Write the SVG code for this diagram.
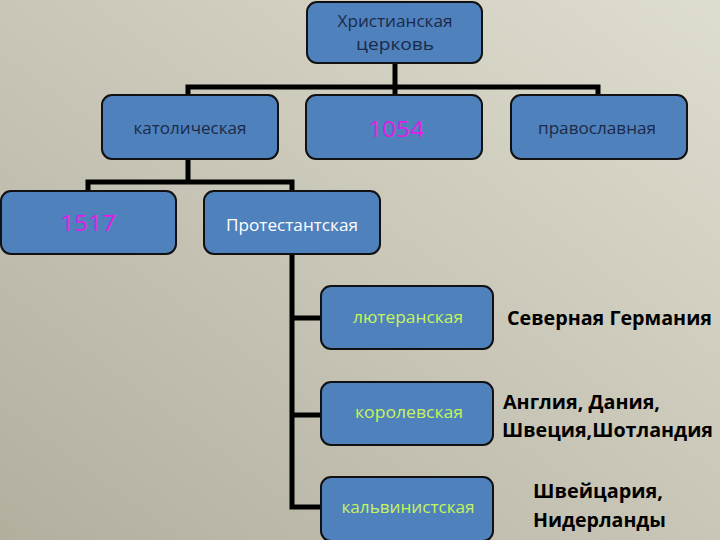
<svg xmlns="http://www.w3.org/2000/svg" width="720" height="540" viewBox="0 0 720 540">
<defs>
<linearGradient id="bg" x1="1" y1="0" x2="0" y2="1">
<stop offset="0" stop-color="#dfddcf"/>
<stop offset="1" stop-color="#b2af9f"/>
</linearGradient>
<style>
.box{fill:#4f81bd;stroke:#111;stroke-width:2}
.ln{stroke:#000;stroke-width:5;fill:none;stroke-linecap:square}
.t{font-family:"Open Sans","Noto Sans","DejaVu Sans",sans-serif;font-size:16px;text-anchor:middle}
.dark{fill:#1b2a48}
.mag{fill:#e21ce6;font-size:22px}
.wh{fill:#ffffff;font-size:17px}
.gr{fill:#c6f55a;font-size:16px}
.r{font-family:"Open Sans","Noto Sans","DejaVu Sans",sans-serif;font-size:19px;font-weight:bold;fill:#000}
</style>
</defs>
<rect width="720" height="540" fill="url(#bg)"/>
<g id="connectors">
<path class="ln" d="M395 63V95M188 87H598M188 87V95M598 87V95"/>
<path class="ln" d="M188 159V182M88 182H292M88 182V191M292 182V191"/>
<path class="ln" d="M292 254V507M292 318H321M292 415H321M292 507H321"/>
</g>
<g id="n-root"><rect class="box" x="307" y="2" width="175" height="61" rx="10"/>
<text class="t dark" x="395" y="27" textLength="115" lengthAdjust="spacingAndGlyphs">Христианская</text>
<text class="t dark" x="395" y="50" textLength="78" lengthAdjust="spacingAndGlyphs">церковь</text></g>
<g id="n-cath"><rect class="box" x="102" y="95" width="176" height="64" rx="10"/>
<text class="t dark" x="190" y="134" textLength="113" lengthAdjust="spacingAndGlyphs">католическая</text></g>
<g id="n-1054"><rect class="box" x="306" y="95" width="176" height="64" rx="10"/>
<text class="t mag" x="396" y="137" textLength="56" lengthAdjust="spacingAndGlyphs">1054</text></g>
<g id="n-orth"><rect class="box" x="511" y="95" width="176" height="64" rx="10"/>
<text class="t dark" x="597" y="134" textLength="118" lengthAdjust="spacingAndGlyphs">православная</text></g>
<g id="n-1517"><rect class="box" x="1" y="191" width="175" height="63" rx="10"/>
<text class="t mag" x="88" y="231" textLength="56" lengthAdjust="spacingAndGlyphs">1517</text></g>
<g id="n-prot"><rect class="box" x="204" y="191" width="176" height="63" rx="10"/>
<text class="t wh" x="292" y="231" textLength="132" lengthAdjust="spacingAndGlyphs">Протестантская</text></g>
<g id="n-luth"><rect class="box" x="321" y="286" width="172" height="63" rx="10"/>
<text class="t gr" x="408" y="323" textLength="110" lengthAdjust="spacingAndGlyphs">лютеранская</text></g>
<g id="n-angl"><rect class="box" x="321" y="382" width="172" height="63" rx="10"/>
<text class="t gr" x="409" y="418" textLength="108" lengthAdjust="spacingAndGlyphs">королевская</text></g>
<g id="n-calv"><rect class="box" x="321" y="477" width="172" height="64" rx="10"/>
<text class="t gr" x="408" y="513" textLength="133" lengthAdjust="spacingAndGlyphs">кальвинистская</text></g>
<g id="lbl-luth"><text class="r" x="507" y="325" textLength="205" lengthAdjust="spacingAndGlyphs">Северная Германия</text></g>
<g id="lbl-angl"><text class="r" x="503" y="409" textLength="157" lengthAdjust="spacingAndGlyphs">Англия, Дания,</text>
<text class="r" x="502" y="437" textLength="211" lengthAdjust="spacingAndGlyphs">Швеция,Шотландия</text></g>
<g id="lbl-calv"><text class="r" x="533" y="498" textLength="130" lengthAdjust="spacingAndGlyphs">Швейцария,</text>
<text class="r" x="533" y="527" textLength="133" lengthAdjust="spacingAndGlyphs">Нидерланды</text></g>
</svg>
